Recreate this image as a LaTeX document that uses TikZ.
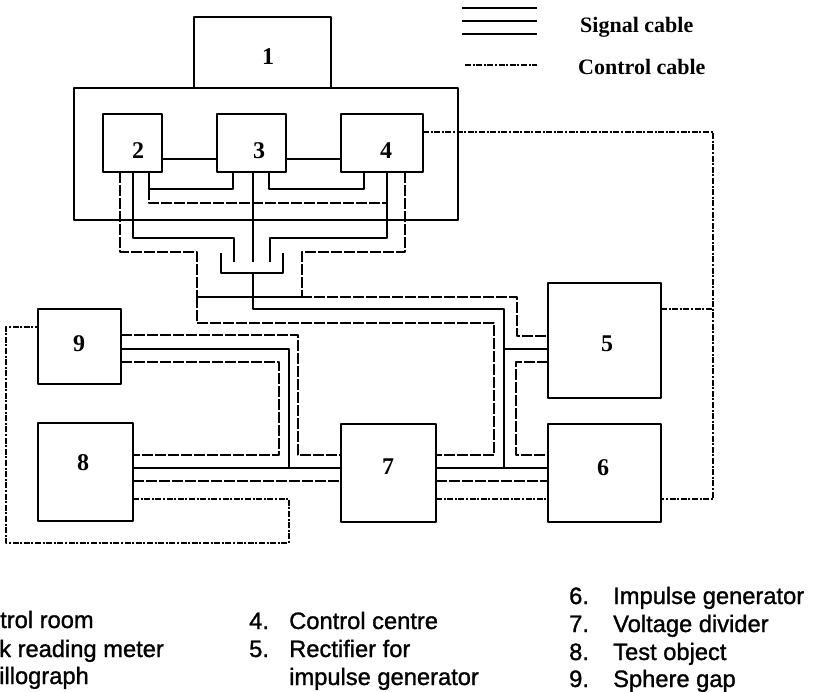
\documentclass[tikz,border=0pt]{standalone}
\usepackage{fontspec}
\setmainfont{Liberation Serif}
\newfontfamily\capfont[FakeBold=1.2]{Liberation Sans}
\tikzset{
  box/.style={draw=black,line width=2.2pt,inner sep=0pt,outer sep=0pt,line join=round},
  num/.style={font=\bfseries\fontsize{24}{26}\selectfont,inner sep=0pt},
  sig/.style={draw=black,line width=2pt,line join=round},
  ctl/.style={draw=black,line width=2pt,line join=round,dash pattern=on 11pt off 2pt},
  cc/.style={draw=black,line width=1.8pt,line join=round,dash pattern=on 6pt off 1.6pt on 2pt off 1.6pt},
  legendtxt/.style={font=\bfseries\fontsize{22}{24}\selectfont,inner sep=0pt,anchor=base west},
  captxt/.style={font=\capfont\fontsize{23.7}{26}\selectfont,inner sep=0pt,anchor=base west},
}
\begin{document}
\begin{tikzpicture}[x=1pt,y=-1pt]
\useasboundingbox (0,0) rectangle (816,692);
% boxes
\node[box,minimum width=137pt,minimum height=71pt] (b1) at (262.5,52.5) {};
\node[box,minimum width=384pt,minimum height=132pt] (room) at (266,154) {};
\node[box,minimum width=59pt,minimum height=58pt] (b2) at (132.5,143) {};
\node[box,minimum width=69pt,minimum height=58pt] (b3) at (251.5,143) {};
\node[box,minimum width=82pt,minimum height=58pt] (b4) at (382,143) {};
\node[box,minimum width=113pt,minimum height=115pt] (b5) at (604.5,340.5) {};
\node[box,minimum width=113pt,minimum height=98pt] (b6) at (604.5,473) {};
\node[box,minimum width=95pt,minimum height=98pt] (b7) at (388.5,473) {};
\node[box,minimum width=95pt,minimum height=98pt] (b8) at (85.5,472) {};
\node[box,minimum width=83pt,minimum height=75pt] (b9) at (79.5,346.5) {};
% numbers
\node[num] (n1) at (268,57) {1};
\node[num] (n2) at (138,151) {2};
\node[num] (n3) at (259,151) {3};
\node[num] (n4) at (386,151) {4};
\node[num] (n5) at (607,344) {5};
\node[num] (n6) at (603,468) {6};
\node[num] (n7) at (388,467) {7};
\node[num] (n8) at (83,463) {8};
\node[num] (n9) at (79,344) {9};
% waypoints
\coordinate (j1) at (197,297);
\coordinate (j2) at (253,273);
\coordinate (j3) at (504,468);
\coordinate (j4) at (289,468);
\coordinate (j5) at (713,309);
\coordinate (j6) at (149,189);
\coordinate (j7) at (387,203);
% room signal links
\draw[sig] (b2.east |- 0,159) -- (b3.west |- 0,159);
\draw[sig] (b3.east |- 0,159) -- (b4.west |- 0,159);
\draw[sig] (b2.south -| j6) -- (j6) -- (233,189) -- (b3.south -| 233,0);
\draw[sig] (b3.south -| 269,0) -- (269,189) -- (364,189) -- (b4.south -| 364,0);
\draw[ctl] (j6) -- (149,203) -- (j7);
\draw[sig] (b4.south -| j7) -- (387,238) -- (270,238) -- (270,262);
\draw[sig] (b2.south -| 133,0) -- (133,238) -- (234,238) -- (234,262);
\draw[sig] (b3.south -| 253,0) -- (253,262);
\draw[ctl] (b2.south -| 120,0) -- (120,252) -- (197,252) -- (j1);
\draw[ctl] (b4.south -| 405,0) -- (405,252) -- (302,252) -- (302,297) -- (j1);
\draw[sig] (221,253) -- (221,273) -- (283,273) -- (283,253);
% trunk lines to 5
\draw[ctl] (j1) -- (197,323) -- (494,323) -- (494,455) -- (b7.east |- 0,455);
\draw[ctl] (j1) -- (517,297) -- (517,336) -- (b5.west |- 0,336);
\draw[sig] (j2) -- (253,309) -- (504,309) -- (j3);
\draw[sig] (j3 |- 0,349) -- (b5.west |- 0,349);
\draw[ctl] (b5.west |- 0,362) -- (516,362) -- (516,455) -- (b6.west |- 0,455);
% 7 - 6
\draw[sig] (b7.east |- 0,468) -- (b6.west |- 0,468);
\draw[ctl] (b7.east |- 0,481) -- (b6.west |- 0,481);
\draw[cc] (b7.east |- 0,499) -- (b6.west |- 0,499);
% control centre loop
\draw[cc] (b4.east |- 0,132) -- (713,132) -- (713,499) -- (b6.east |- 0,499);
\draw[cc] (b5.east |- 0,309) -- (j5);
% 9 and 8
\draw[ctl] (b9.east |- 0,335) -- (298,335) -- (298,455) -- (b7.west |- 0,455);
\draw[sig] (b9.east |- 0,349) -- (289,349) -- (j4);
\draw[ctl] (b9.east |- 0,362) -- (279,362) -- (279,455) -- (b8.east |- 0,455);
\draw[sig] (b8.east |- 0,468) -- (b7.west |- 0,468);
\draw[ctl] (b8.east |- 0,481) -- (b7.west |- 0,481);
\draw[cc] (b8.east |- 0,499) -- (289,499) -- (289,543) -- (6,543) -- (6,327) -- (b9.west |- 0,327);
% legend
\coordinate (la) at (462,8); \coordinate (lb) at (537,8);
\coordinate (lc) at (462,21); \coordinate (ld) at (537,21);
\coordinate (le) at (462,34); \coordinate (lf) at (537,34);
\coordinate (lg) at (465,65); \coordinate (lh) at (537,65);
\draw[sig] (la) -- (lb); \draw[sig] (lc) -- (ld); \draw[sig] (le) -- (lf);
\draw[cc] (lg) -- (lh);
\node[legendtxt] (t1) at (580,33) {Signal cable};
\node[legendtxt] (t2) at (578,75) {Control cable};
% captions
\node[captxt] (c1) at (0,628) {trol room};
\node[captxt] (c2) at (-1,657) {k reading meter};
\node[captxt] (c3) at (-1,684) {illograph};
\node[captxt] (c4a) at (249,629) {4.};
\node[captxt] (c4) at (289,629) {Control centre};
\node[captxt] (c5a) at (249,657) {5.};
\node[captxt] (c5) at (289,657) {Rectifier for};
\node[captxt] (c5b) at (289,685) {impulse generator};
\node[captxt] (c6a) at (569,604) {6.};
\node[captxt] (c6) at (613,604) {Impulse generator};
\node[captxt] (c7a) at (569,632) {7.};
\node[captxt] (c7) at (613,632) {Voltage divider};
\node[captxt] (c8a) at (569,660) {8.};
\node[captxt] (c8) at (613,660) {Test object};
\node[captxt] (c9a) at (569,687) {9.};
\node[captxt] (c9) at (613,687) {Sphere gap};
\end{tikzpicture}
\end{document}
